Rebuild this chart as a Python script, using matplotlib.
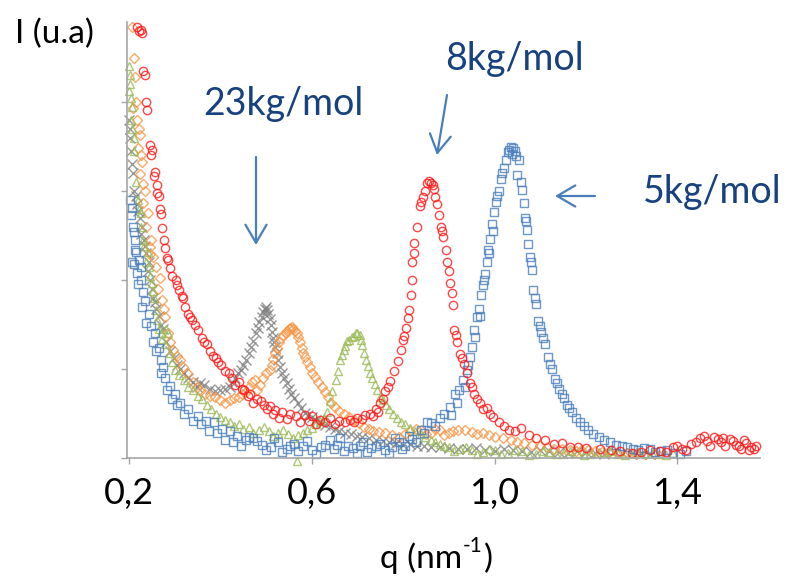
import matplotlib
matplotlib.use("Agg")
import matplotlib.pyplot as plt
import numpy as np

plt.rcParams['font.family'] = ['Lato', 'DejaVu Sans']

# scattering curves: (q in nm-1, intensity in tick units)
red_8k = [(0.218, 4.84), (0.226, 4.81), (0.229, 4.78), (0.231, 4.35), (0.238, 4.00), (0.240, 3.91),
          (0.246, 3.52), (0.251, 3.46), (0.257, 3.21), (0.255, 3.17), (0.261, 3.07), (0.265, 2.94),
          (0.268, 2.80), (0.270, 2.74), (0.272, 2.58), (0.279, 2.36), (0.283, 2.25), (0.286, 2.22),
          (0.290, 2.13), (0.303, 2.00), (0.305, 1.94), (0.310, 1.89), (0.319, 1.80), (0.323, 1.70),
          (0.330, 1.62), (0.337, 1.55), (0.350, 1.44), (0.360, 1.35), (0.370, 1.28), (0.377, 1.20),
          (0.390, 1.12), (0.401, 1.04), (0.410, 0.98), (0.425, 0.90), (0.440, 0.85), (0.452, 0.76),
          (0.465, 0.72), (0.480, 0.66), (0.495, 0.60), (0.509, 0.58), (0.520, 0.54), (0.534, 0.52),
          (0.552, 0.49), (0.565, 0.47), (0.585, 0.48), (0.600, 0.47), (0.618, 0.43), (0.640, 0.45),
          (0.660, 0.42), (0.684, 0.43), (0.700, 0.45), (0.716, 0.48), (0.727, 0.50), (0.740, 0.55),
          (0.749, 0.62), (0.760, 0.75), (0.771, 0.86), (0.780, 0.98), (0.788, 1.09), (0.795, 1.21),
          (0.800, 1.33), (0.806, 1.46), (0.811, 1.57), (0.813, 1.66), (0.817, 1.83), (0.819, 2.00),
          (0.820, 2.20), (0.824, 2.42), (0.830, 2.60), (0.836, 2.83), (0.844, 2.93), (0.852, 3.09),
          (0.857, 3.11), (0.862, 3.09), (0.866, 3.07), (0.870, 2.93), (0.874, 2.86), (0.878, 2.73),
          (0.883, 2.60), (0.888, 2.48), (0.893, 2.34), (0.896, 2.20), (0.900, 2.10), (0.902, 1.97),
          (0.906, 1.85), (0.908, 1.72), (0.911, 1.44), (0.917, 1.30), (0.924, 1.17), (0.933, 1.06),
          (0.939, 0.96), (0.946, 0.84), (0.955, 0.72), (0.968, 0.62), (0.983, 0.56), (0.997, 0.46),
          (1.010, 0.40), (1.032, 0.32), (1.058, 0.34), (1.075, 0.26), (1.110, 0.20), (1.147, 0.17),
          (1.182, 0.12), (1.230, 0.10), (1.275, 0.08), (1.320, 0.07), (1.362, 0.08), (1.390, 0.12),
          (1.410, 0.10), (1.430, 0.16), (1.450, 0.22), (1.465, 0.19), (1.480, 0.24), (1.495, 0.18),
          (1.505, 0.13), (1.515, 0.21), (1.528, 0.15), (1.540, 0.10), (1.550, 0.17), (1.562, 0.12),
          (1.572, 0.14),
          (0.222, 4.80), (0.235, 4.30), (0.248, 3.40), (0.262, 2.98), (0.276, 2.45), (0.295, 2.05),
          (0.315, 1.82), (0.333, 1.58), (0.345, 1.50), (0.365, 1.30), (0.383, 1.15), (0.395, 1.08),
          (0.418, 0.95), (0.432, 0.82), (0.447, 0.78), (0.460, 0.70), (0.472, 0.62), (0.488, 0.64),
          (0.502, 0.55), (0.515, 0.50), (0.528, 0.45), (0.545, 0.44), (0.575, 0.40), (0.595, 0.42),
          (0.610, 0.38), (0.630, 0.41), (0.650, 0.38), (0.672, 0.40), (0.692, 0.41), (0.710, 0.44),
          (0.733, 0.47), (0.745, 0.52), (0.755, 0.66), (0.766, 0.80), (0.802, 1.37), (0.823, 2.30),
          (0.840, 2.88), (0.848, 3.00), (0.868, 3.02), (0.886, 2.55), (0.915, 1.38), (0.928, 1.12),
          (0.950, 0.80), (0.962, 0.66), (0.975, 0.55), (0.990, 0.50), (1.020, 0.36), (1.045, 0.30),
          (1.090, 0.22), (1.130, 0.16), (1.165, 0.12), (1.200, 0.11), (1.255, 0.09), (1.300, 0.06),
          (1.340, 0.09), (1.375, 0.07), (1.400, 0.14), (1.420, 0.09), (1.440, 0.18), (1.458, 0.25),
          (1.472, 0.14), (1.488, 0.21), (1.500, 0.23), (1.522, 0.19), (1.535, 0.13), (1.545, 0.20),
          (1.556, 0.09), (1.568, 0.10)]

blue_5k = [(0.203, 2.90), (0.206, 2.81), (0.204, 2.73), (0.209, 2.60), (0.211, 2.54), (0.213, 2.34),
           (0.216, 2.32), (0.222, 2.22), (0.211, 2.18), (0.227, 2.15), (0.218, 2.08), (0.226, 2.00),
           (0.231, 1.86), (0.235, 1.76), (0.243, 1.62), (0.248, 1.48), (0.257, 1.40), (0.265, 1.24),
           (0.269, 1.10), (0.271, 0.96), (0.279, 0.90), (0.290, 0.81), (0.300, 0.72), (0.312, 0.62),
           (0.330, 0.55), (0.350, 0.47), (0.368, 0.42), (0.385, 0.40), (0.403, 0.33), (0.420, 0.30),
           (0.437, 0.25), (0.455, 0.20), (0.472, 0.23), (0.490, 0.15), (0.510, 0.12), (0.527, 0.18),
           (0.545, 0.10), (0.562, 0.16), (0.580, 0.14), (0.600, 0.09), (0.620, 0.12), (0.640, 0.20),
           (0.655, 0.15), (0.670, 0.08), (0.690, 0.11), (0.705, 0.13), (0.720, 0.07), (0.740, 0.14),
           (0.760, 0.09), (0.775, 0.12), (0.790, 0.18), (0.805, 0.13), (0.820, 0.21), (0.838, 0.32),
           (0.860, 0.39), (0.880, 0.45), (0.902, 0.57), (0.913, 0.72), (0.922, 0.76), (0.930, 0.88),
           (0.939, 0.99), (0.946, 1.14), (0.950, 1.25), (0.955, 1.44), (0.961, 1.58), (0.966, 1.68),
           (0.970, 1.83), (0.975, 1.94), (0.979, 2.07), (0.983, 2.20), (0.985, 2.34), (0.990, 2.46),
           (0.994, 2.63), (0.999, 2.76), (1.003, 2.88), (1.010, 3.00), (1.014, 3.13), (1.020, 3.26),
           (1.024, 3.35), (1.029, 3.44), (1.035, 3.50), (1.041, 3.48), (1.046, 3.39), (1.053, 3.35),
           (1.049, 3.18), (1.060, 3.01), (1.065, 2.87), (1.066, 2.70), (1.071, 2.56), (1.073, 2.41),
           (1.077, 2.26), (1.081, 2.11), (1.085, 1.89), (1.090, 1.73), (1.096, 1.54), (1.101, 1.42),
           (1.110, 1.28), (1.117, 1.14), (1.125, 1.00), (1.132, 0.89), (1.141, 0.78), (1.152, 0.67),
           (1.163, 0.56), (1.178, 0.45), (1.195, 0.36), (1.215, 0.27), (1.240, 0.20), (1.265, 0.15),
           (1.290, 0.12), (1.315, 0.09), (1.340, 0.10), (1.365, 0.08), (1.390, 0.06),
           (0.207, 2.20), (0.214, 2.45), (0.220, 1.95), (0.229, 1.70), (0.238, 1.52), (0.252, 1.30),
           (0.260, 1.20), (0.275, 1.02), (0.284, 0.76), (0.295, 0.66), (0.305, 0.60), (0.320, 0.50),
           (0.340, 0.42), (0.358, 0.38), (0.375, 0.30), (0.393, 0.28), (0.410, 0.20), (0.428, 0.18),
           (0.445, 0.13), (0.462, 0.24), (0.480, 0.19), (0.500, 0.09), (0.518, 0.22), (0.535, 0.07),
           (0.553, 0.13), (0.570, 0.08), (0.590, 0.19), (0.610, 0.05), (0.630, 0.15), (0.648, 0.10),
           (0.662, 0.22), (0.680, 0.14), (0.698, 0.06), (0.712, 0.18), (0.730, 0.11), (0.750, 0.16),
           (0.768, 0.06), (0.783, 0.22), (0.798, 0.10), (0.812, 0.25), (0.828, 0.18), (0.845, 0.28),
           (0.852, 0.40), (0.870, 0.36), (0.890, 0.50), (0.905, 0.48), (0.918, 0.62), (0.935, 0.80),
           (0.943, 1.05), (0.958, 1.36), (0.968, 1.60), (0.977, 2.00), (0.988, 2.30), (0.997, 2.55),
           (1.006, 2.95), (1.016, 3.20), (1.032, 3.46), (1.038, 3.42), (1.044, 3.45), (1.057, 3.10),
           (1.069, 2.66), (1.079, 2.20), (1.088, 1.80), (1.099, 1.48), (1.106, 1.35), (1.121, 1.06),
           (1.137, 0.84), (1.147, 0.72), (1.158, 0.60), (1.170, 0.52), (1.186, 0.40), (1.205, 0.32),
           (1.228, 0.24), (1.252, 0.18), (1.278, 0.14), (1.302, 0.10), (1.328, 0.11), (1.352, 0.07),
           (1.378, 0.09), (1.405, 0.05), (1.420, 0.08)]

green_tri = [(0.200, 4.40), (0.202, 4.30), (0.201, 4.13), (0.204, 4.05), (0.207, 3.94), (0.205, 3.80),
             (0.210, 3.60), (0.212, 3.45), (0.219, 2.90), (0.227, 2.75), (0.226, 2.60), (0.230, 2.45),
             (0.241, 2.31), (0.243, 2.15), (0.250, 1.97), (0.255, 1.80), (0.259, 1.66), (0.266, 1.45),
             (0.273, 1.34), (0.285, 1.40), (0.290, 1.18), (0.301, 0.99), (0.320, 0.88), (0.341, 0.76),
             (0.360, 0.66), (0.380, 0.55), (0.400, 0.46), (0.420, 0.40), (0.440, 0.38), (0.463, 0.35),
             (0.484, 0.32), (0.506, 0.30), (0.527, 0.28), (0.548, 0.27), (0.568, -0.03), (0.570, 0.26),
             (0.590, 0.31), (0.610, 0.38), (0.627, 0.45), (0.640, 0.64), (0.652, 0.88), (0.662, 1.10),
             (0.670, 1.21), (0.677, 1.31), (0.688, 1.36), (0.697, 1.40), (0.705, 1.38), (0.711, 1.27),
             (0.719, 1.10), (0.727, 0.96), (0.738, 0.83), (0.749, 0.69), (0.762, 0.60), (0.778, 0.49),
             (0.795, 0.41), (0.815, 0.34), (0.838, 0.27), (0.860, 0.20), (0.880, 0.16), (0.900, 0.12),
             (0.925, 0.10), (0.950, 0.09), (0.975, 0.07), (1.000, 0.09), (1.030, 0.06), (1.060, 0.08),
             (1.090, 0.05), (1.120, 0.07), (1.150, 0.04), (1.180, 0.06), (1.210, 0.05), (1.240, 0.07),
             (1.270, 0.04), (1.300, 0.06), (1.330, 0.05), (1.360, 0.04), (1.390, 0.06),
             (0.203, 4.20), (0.206, 3.70), (0.215, 3.10), (0.222, 2.80), (0.233, 2.38), (0.238, 2.20),
             (0.247, 2.05), (0.252, 1.88), (0.262, 1.55), (0.270, 1.40), (0.279, 1.28), (0.282, 1.45),
             (0.295, 1.08), (0.310, 0.93), (0.330, 0.80), (0.350, 0.70), (0.370, 0.60), (0.390, 0.50),
             (0.410, 0.43), (0.430, 0.36), (0.450, 0.33), (0.472, 0.28), (0.495, 0.35), (0.515, 0.25),
             (0.538, 0.31), (0.558, 0.22), (0.580, 0.28), (0.600, 0.34), (0.618, 0.42), (0.633, 0.52),
             (0.645, 0.75), (0.657, 0.98), (0.666, 1.16), (0.673, 1.26), (0.682, 1.33), (0.692, 1.37),
             (0.700, 1.41), (0.708, 1.33), (0.715, 1.18), (0.723, 1.03), (0.732, 0.90), (0.743, 0.76),
             (0.755, 0.65), (0.770, 0.55), (0.786, 0.45), (0.805, 0.38), (0.826, 0.30), (0.848, 0.24),
             (0.870, 0.18), (0.890, 0.14), (0.912, 0.08), (0.938, 0.12), (0.962, 0.05), (0.988, 0.10),
             (1.015, 0.04), (1.045, 0.09), (1.075, 0.03), (1.105, 0.08), (1.135, 0.05), (1.165, 0.08),
             (1.195, 0.03), (1.225, 0.06), (1.255, 0.08), (1.285, 0.03), (1.315, 0.07), (1.345, 0.06),
             (1.375, 0.03)]

grey_23k = [(0.200, 3.80), (0.203, 3.70), (0.205, 3.45), (0.209, 3.20), (0.212, 3.00), (0.218, 2.85),
            (0.223, 2.70), (0.228, 2.60), (0.232, 2.45), (0.238, 2.30), (0.243, 2.20), (0.250, 1.90),
            (0.256, 1.75), (0.265, 1.60), (0.275, 1.45), (0.290, 1.20), (0.305, 1.05), (0.320, 0.95),
            (0.340, 0.85), (0.355, 0.84), (0.377, 0.78), (0.399, 0.76), (0.420, 0.80), (0.432, 0.90),
            (0.445, 0.99), (0.456, 1.10), (0.467, 1.25), (0.478, 1.40), (0.485, 1.53), (0.493, 1.64),
            (0.500, 1.70), (0.505, 1.62), (0.510, 1.50), (0.515, 1.35), (0.520, 1.25), (0.527, 1.10),
            (0.535, 0.96), (0.545, 0.84), (0.555, 0.72), (0.570, 0.62), (0.585, 0.51), (0.600, 0.46),
            (0.620, 0.40), (0.640, 0.35), (0.660, 0.30), (0.685, 0.27), (0.710, 0.24), (0.740, 0.20),
            (0.770, 0.18), (0.800, 0.15), (0.830, 0.14), (0.860, 0.12), (0.900, 0.11), (0.940, 0.10),
            (0.980, 0.09), (1.020, 0.10), (1.060, 0.08), (1.100, 0.09), (1.140, 0.07), (1.180, 0.08),
            (1.220, 0.06), (1.260, 0.07), (1.300, 0.06), (1.340, 0.05),
            (0.202, 3.60), (0.207, 3.30), (0.215, 2.95), (0.220, 2.78), (0.226, 2.52), (0.235, 2.38),
            (0.241, 2.10), (0.247, 2.00), (0.253, 1.80), (0.260, 1.68), (0.270, 1.50), (0.282, 1.30),
            (0.298, 1.12), (0.312, 1.00), (0.330, 0.90), (0.348, 0.80), (0.365, 0.82), (0.388, 0.75),
            (0.410, 0.78), (0.426, 0.85), (0.438, 0.95), (0.450, 1.05), (0.462, 1.18), (0.472, 1.32),
            (0.482, 1.46), (0.490, 1.58), (0.497, 1.67), (0.503, 1.66), (0.508, 1.56), (0.513, 1.42),
            (0.518, 1.30), (0.523, 1.18), (0.531, 1.02), (0.540, 0.90), (0.550, 0.78), (0.562, 0.67),
            (0.577, 0.56), (0.592, 0.48), (0.610, 0.43), (0.630, 0.37), (0.650, 0.33), (0.672, 0.28),
            (0.698, 0.25), (0.725, 0.22), (0.755, 0.19), (0.785, 0.17), (0.815, 0.16), (0.845, 0.13),
            (0.880, 0.12), (0.920, 0.10), (0.960, 0.11), (1.000, 0.08), (1.040, 0.09), (1.080, 0.07),
            (1.120, 0.08), (1.160, 0.06), (1.200, 0.07), (1.240, 0.05), (1.280, 0.06), (1.320, 0.05)]

orange_dia = [(0.207, 4.84), (0.213, 4.28), (0.209, 3.93), (0.218, 3.80), (0.224, 3.63), (0.220, 3.48),
              (0.229, 3.33), (0.224, 3.19), (0.231, 3.08), (0.231, 2.87), (0.242, 2.75), (0.246, 2.37),
              (0.252, 2.26), (0.246, 2.29), (0.268, 2.02), (0.272, 1.78), (0.279, 1.58), (0.296, 1.21),
              (0.312, 1.10), (0.319, 1.02), (0.340, 0.85), (0.355, 0.75), (0.377, 0.70), (0.399, 0.65),
              (0.420, 0.65), (0.440, 0.69), (0.455, 0.74), (0.470, 0.85), (0.480, 0.76), (0.494, 0.90),
              (0.509, 0.99), (0.515, 1.11), (0.524, 1.24), (0.533, 1.35), (0.543, 1.40), (0.550, 1.45),
              (0.557, 1.47), (0.563, 1.43), (0.570, 1.36), (0.578, 1.24), (0.585, 1.13), (0.596, 1.02),
              (0.607, 0.91), (0.622, 0.80), (0.635, 0.68), (0.650, 0.57), (0.670, 0.49), (0.693, 0.43),
              (0.715, 0.35), (0.735, 0.30), (0.760, 0.28), (0.790, 0.24), (0.815, 0.30), (0.840, 0.31),
              (0.860, 0.28), (0.880, 0.31), (0.900, 0.28), (0.920, 0.32), (0.950, 0.29), (0.975, 0.28),
              (1.000, 0.24), (1.035, 0.20), (1.065, 0.17), (1.100, 0.13), (1.130, 0.10), (1.165, 0.09),
              (1.190, 0.09), (1.220, 0.08), (1.250, 0.07), (1.290, 0.06), (1.330, 0.05),
              (0.210, 4.50), (0.215, 4.00), (0.222, 3.70), (0.226, 3.40), (0.235, 3.00), (0.238, 2.60),
              (0.249, 2.45), (0.258, 2.15), (0.264, 1.90), (0.276, 1.68), (0.285, 1.40), (0.290, 1.30),
              (0.305, 1.15), (0.328, 0.95), (0.348, 0.80), (0.366, 0.72), (0.388, 0.68), (0.410, 0.62),
              (0.430, 0.67), (0.448, 0.72), (0.462, 0.80), (0.475, 0.88), (0.487, 0.82), (0.500, 0.95),
              (0.512, 1.05), (0.519, 1.18), (0.528, 1.30), (0.538, 1.38), (0.546, 1.43), (0.553, 1.46),
              (0.560, 1.45), (0.567, 1.40), (0.574, 1.30), (0.581, 1.18), (0.590, 1.08), (0.601, 0.96),
              (0.614, 0.85), (0.628, 0.74), (0.642, 0.62), (0.660, 0.53), (0.682, 0.46), (0.704, 0.39),
              (0.725, 0.33), (0.748, 0.29), (0.775, 0.26), (0.803, 0.27), (0.828, 0.33), (0.850, 0.27),
              (0.870, 0.33), (0.890, 0.26), (0.910, 0.30), (0.935, 0.31), (0.962, 0.27), (0.988, 0.26),
              (1.018, 0.22), (1.050, 0.18), (1.082, 0.15), (1.115, 0.12), (1.148, 0.10), (1.178, 0.08),
              (1.205, 0.09), (1.235, 0.07), (1.270, 0.06), (1.310, 0.05), (1.350, 0.04)]

x_ticks = [0.2, 0.6, 1.0, 1.4]
x_ticklabels = ["0,2", "0,6", "1,0", "1,4"]
y_ticks = [0, 1, 2, 3, 4]

W, H = 792, 577
fig = plt.figure(figsize=(W / 100, H / 100), dpi=100)
ax = fig.add_axes([127 / W, 1 - 458 / H, (760 - 127) / W, (458 - 22) / H])

series = [
    (grey_23k, "x", "#7f7f7f", 6.5),
    (orange_dia, "D", "#f79646", 5.0),
    (green_tri, "^", "#9bbb59", 6.0),
    (blue_5k, "s", "#4a7ebb", 5.5),
    (red_8k, "o", "#ff1a1a", 6.0),
]
for pts, mk, col, ms in series:
    q, i = np.array(pts).T
    ax.plot(q, i, ls="none", marker=mk, ms=ms, mfc="none", mec=col, mew=1.0,
            alpha=0.8, clip_on=False)

ax.set_xlim(0.1956, 1.581)
ax.set_ylim(0, 4.9)
ax.set_xticks(x_ticks)
ax.set_xticklabels(x_ticklabels, fontsize=26)
ax.set_yticks(y_ticks)
ax.set_yticklabels([])
ax.tick_params(axis="both", length=4, width=1, color="#a6a6a6", pad=10)
for s in ("top", "right"):
    ax.spines[s].set_visible(False)
for s in ("left", "bottom"):
    ax.spines[s].set_color("#a6a6a6")
    ax.spines[s].set_linewidth(1.2)


def fpos(px, py):
    return px / W, 1 - py / H


txt_col = "#17417f"
arr_col = "#4a7ebb"
fig.text(*fpos(15, 43), "I (u.a)", fontsize=24, ha="left", va="baseline", color="black")

# x label with a plain hyphen in the exponent, as in the picture
r = fig.canvas.get_renderer()
t1 = fig.text(*fpos(380, 568), "q (nm", fontsize=24, ha="left", va="baseline")
b1 = t1.get_window_extent(r)
t2 = fig.text(b1.x1 / W + 1 / W, 1 - 552 / H, "-1", fontsize=15, ha="left", va="baseline")
b2 = t2.get_window_extent(r)
fig.text(b2.x1 / W + 1 / W, 1 - 568 / H, ")", fontsize=24, ha="left", va="baseline")

fig.text(*fpos(203, 115), "23kg/mol", fontsize=27, ha="left", va="baseline", color=txt_col)
fig.text(*fpos(445, 70), "8kg/mol", fontsize=27, ha="left", va="baseline", color=txt_col)
fig.text(*fpos(643, 203), "5kg/mol", fontsize=27, ha="left", va="baseline", color=txt_col)

arrow = dict(arrowstyle="->,head_length=0.65,head_width=0.38", color=arr_col, lw=1.6,
             mutation_scale=20, shrinkA=0, shrinkB=0)
for tail, tip in [((256, 157), (256, 245)), ((447, 95), (437, 155)), ((595, 196), (555, 196))]:
    ax.annotate("", xy=fpos(*tip), xytext=fpos(*tail), xycoords="figure fraction",
                textcoords="figure fraction", arrowprops=arrow)

fig.savefig("out.png", dpi=100)
